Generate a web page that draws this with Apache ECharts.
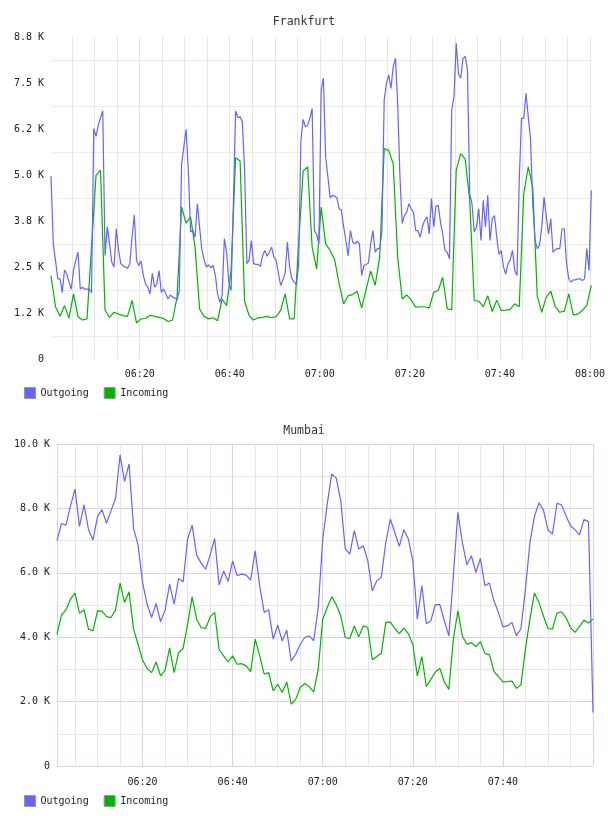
<!DOCTYPE html>
<html>
<head>
<meta charset="utf-8">
<script src="https://cdn.jsdelivr.net/npm/echarts@6/dist/echarts.min.js"></script>
<style>
  html, body { margin: 0; padding: 0; background: #fff; }
  #chart { width: 608px; height: 816px; }
</style>
</head>
<body>
<div id="chart"></div>
<script>
// time is in minutes after 06:00
const seriesNames = ['Outgoing', 'Incoming']
const seriesColors = ['#6464ff', '#00b400']

const timeTicks = [20, 40, 60, 80, 100, 120]
const timeLabels = ['06:20', '06:40', '07:00', '07:20', '07:40', '08:00']

// Frankfurt
const frkStart = 0.3
const frkOutStep = 0.5
const frkInStep = 1
const frkYTicks = [0, 1250, 2500, 3750, 5000, 6250, 7500, 8750]
const frkYLabels = ['0', '1.2 K', '2.5 K', '3.8 K', '5.0 K', '6.2 K', '7.5 K', '8.8 K']

const frkOut = [
  4970, 3130, 2680, 2180, 2180, 1810, 2420, 2310, 2090, 1900,
  2400, 2680, 2900, 1900, 1950, 1900, 1900, 1900, 1800, 6260,
  6050, 6350, 6560, 6740, 2810, 3590, 3130, 2630, 2500, 3540,
  2950, 2590, 2530, 2500, 2460, 2590, 3310, 3920, 2680, 2540,
  2660, 2270, 2040, 1950, 1770, 2330, 1950, 2040, 2400, 1810,
  1900, 1770, 1630, 1740, 1680, 1660, 1600, 1860, 5280, 5760,
  6240, 5130, 3450, 3510, 3310, 4220, 3590, 2970, 2700, 2500,
  2560, 2480, 2540, 2270, 1770, 1540, 1720, 3270, 2900, 2090,
  1860, 4220, 6740, 6560, 6580, 6450, 5130, 2590, 2680, 3220,
  2590, 2570, 2570, 2510, 2810, 2950, 2790, 2900, 3040, 2770,
  2680, 2330, 2000, 2150, 2330, 3180, 2500, 2180, 2090, 2020,
  2540, 5950, 6510, 6310, 6350, 6540, 6810, 3490, 3390, 3130,
  7290, 7630, 5490, 4950, 4380, 4450, 4420, 4380, 4080, 4040,
  3590, 3220, 2810, 3490, 3180, 3130, 3200, 3130, 2270, 2540,
  2570, 2610, 3130, 3490, 2900, 3000, 3000, 3450, 7040, 7490,
  7720, 7350, 7940, 8170, 6940, 4950, 3690, 3900, 3990, 4220,
  4080, 3990, 3490, 3490, 3310, 3600, 3770, 3860, 3400, 4360,
  3590, 4150, 4180, 3720, 3390, 2950, 2900, 2720, 6760, 7130,
  8580, 7740, 7630, 8170, 8220, 7850, 4490, 4220, 3450, 3590,
  4080, 3220, 4310, 3590, 4450, 3220, 3810, 3900, 3310, 2840,
  2950, 2500, 2310, 2590, 2700, 2950, 2400, 2270, 4860, 6540,
  6540, 7220, 6580, 5990, 4220, 3220, 3000, 3090, 3590, 4400,
  3860, 3400, 3810, 2900, 2970, 3000, 3000, 3540, 3540, 2590,
  2180, 2090, 2150, 2150, 2180, 2180, 2130, 2180, 3000, 2400,
  4580
]

const frkIn = [
  2270, 1420, 1160, 1450, 1110, 1770, 1150, 1060, 1090, 3040,
  4990, 5130, 1330, 1130, 1270, 1220, 1180, 1160, 1590, 980,
  1090, 1100, 1190, 1160, 1130, 1100, 1020, 1060, 1680, 4130,
  3690, 3860, 3040, 1360, 1160, 1090, 1120, 1040, 1630, 1450,
  2400, 5470, 5380, 1570, 1180, 1060, 1120, 1130, 1160, 1120,
  1150, 1320, 1770, 1090, 1090, 3130, 5110, 5220, 3040, 2450,
  4130, 3130, 2950, 2700, 2040, 1500, 1720, 1750, 1840, 1390,
  1900, 2390, 2000, 2770, 5720, 5670, 5310, 2770, 1630, 1740,
  1600, 1410, 1420, 1420, 1390, 1810, 1860, 2220, 1360, 1340,
  5130, 5580, 5430, 4310, 1590, 1570, 1420, 1720, 1290, 1600,
  1320, 1330, 1350, 1500, 1420, 4490, 5220, 4670, 1700, 1270,
  1680, 1840, 1420, 1270, 1300, 1770, 1200, 1220, 1320, 1450,
  2000
]

// Mumbai
const mumStart = 1
const mumStep = 1
const mumYTicks = [0, 2000, 4000, 6000, 8000, 10000]
const mumYLabels = ['0', '2.0 K', '4.0 K', '6.0 K', '8.0 K', '10.0 K']

const mumOut = [
  7000, 7530, 7480, 8080, 8600, 7440, 8110, 7340, 7020, 7750,
  7960, 7540, 7930, 8310, 9660, 8830, 9380, 7380, 6860, 5700,
  5030, 4610, 5050, 4480, 4840, 5650, 5030, 5820, 5720, 7050,
  7480, 6550, 6300, 6110, 6550, 7070, 5620, 6060, 5730, 6370,
  5910, 5960, 5930, 5770, 6680, 5600, 4770, 4850, 3940, 4370,
  3880, 4220, 3260, 3470, 3780, 3990, 4040, 3890, 4920, 7050,
  8140, 9070, 8940, 8240, 6740, 6580, 7310, 6740, 6840, 6370,
  5440, 5750, 5860, 6940, 7670, 7250, 6820, 7340, 7050, 6370,
  4560, 5600, 4420, 4510, 5010, 5010, 4510, 4040, 5910, 7880,
  6940, 6250, 6530, 6010, 6450, 5600, 5680, 5130, 4770, 4320,
  4350, 4460, 4040, 4270, 5490, 6940, 7750, 8170, 7950, 7330,
  7200, 8160, 8110, 7770, 7460, 7340, 7180, 7650, 7590, 1660
]

const mumIn = [
  4090, 4690, 4850, 5180, 5370, 4740, 4850, 4250, 4200, 4820,
  4810, 4640, 4610, 4850, 5680, 5080, 5410, 4250, 3780, 3290,
  3030, 2900, 3230, 2800, 2970, 3670, 2900, 3520, 3650, 4400,
  5250, 4560, 4300, 4270, 4630, 4770, 3610, 3420, 3230, 3420,
  3160, 3180, 3110, 2930, 3940, 3420, 2850, 2900, 2330, 2540,
  2280, 2610, 1920, 2070, 2440, 2560, 2460, 2300, 3010, 4560,
  4920, 5260, 5010, 4660, 3990, 3960, 4350, 4010, 4350, 4300,
  3300, 3400, 3500, 4460, 4470, 4270, 4110, 4280, 4110, 3780,
  2800, 3400, 2470, 2690, 2920, 3030, 2610, 2380, 3940, 4820,
  4040, 3780, 3830, 3710, 3860, 3490, 3460, 2940, 2780, 2610,
  2620, 2640, 2410, 2520, 3630, 4560, 5370, 5080, 4660, 4270,
  4250, 4750, 4790, 4610, 4300, 4150, 4330, 4530, 4440, 4560
]

const fontMono = '"DejaVu Sans Mono", monospace'

const toPoints = (values, start, step) => values.map((v, i) => [start + i * step, v])

const pickLabel = (ticks, labels) => (v) => {
  const idx = ticks.indexOf(v)
  return idx >= 0 ? labels[idx] : ''
}

const makeLine = (name, color, data, gridIndex) => ({
  name: name,
  type: 'line',
  xAxisIndex: gridIndex,
  yAxisIndex: gridIndex,
  data: data,
  showSymbol: false,
  symbol: 'none',
  lineStyle: { color: color, width: 1.2 },
  itemStyle: { color: color },
  z: name === 'Outgoing' ? 3 : 2
})

const axisText = { fontFamily: fontMono, fontSize: 10, color: '#222' }

const makeLegend = (top) => ({
  data: seriesNames,
  left: 24,
  top: top,
  padding: 0,
  icon: 'rect',
  itemWidth: 11,
  itemHeight: 11,
  itemGap: 15,
  itemStyle: { borderColor: '#999', borderWidth: 1 },
  textStyle: { fontFamily: fontMono, fontSize: 10, color: '#222' },
  selectedMode: false
})

const makeTitle = (text, top) => ({
  text: text,
  left: 'center',
  top: top,
  padding: 0,
  textStyle: { fontFamily: fontMono, fontSize: 11.5, fontWeight: 'normal', color: '#333' }
})

const chart = echarts.init(document.getElementById('chart'), null, { renderer: 'canvas' })

const option = {
  animation: false,
  backgroundColor: '#fff',
  title: [
    makeTitle('Frankfurt', 16),
    makeTitle('Mumbai', 425)
  ],
  legend: [
    makeLegend(387),
    makeLegend(795)
  ],
  grid: [
    { left: 51, top: 37, width: 542, height: 322 },
    { left: 57, top: 444, width: 536, height: 322 }
  ],
  xAxis: [
    {
      type: 'value',
      gridIndex: 0,
      min: frkStart,
      max: frkStart + 120,
      minInterval: 5,
      maxInterval: 5,
      splitNumber: 24,
      axisLine: { show: false },
      axisTick: { show: false },
      axisLabel: { ...axisText, margin: 10, formatter: pickLabel(timeTicks, timeLabels) },
      splitLine: {
        show: true,
        showMinLine: false,
        showMaxLine: false,
        lineStyle: { color: '#e6e6e6', width: 1 }
      }
    },
    {
      type: 'value',
      gridIndex: 1,
      min: mumStart,
      max: 120,
      minInterval: 5,
      maxInterval: 5,
      splitNumber: 24,
      axisLine: { show: false },
      axisTick: { show: false },
      axisLabel: { ...axisText, margin: 11, showMaxLabel: false, formatter: pickLabel(timeTicks, timeLabels) },
      splitLine: {
        show: true,
        lineStyle: { color: ['#e2cde4', '#e6e6e6', '#e6e6e6', '#e6e6e6'], width: 1 }
      }
    }
  ],
  yAxis: [
    {
      type: 'value',
      gridIndex: 0,
      min: 0,
      max: 8750,
      interval: 625,
      axisLine: { show: false },
      axisTick: { show: false },
      axisLabel: { ...axisText, margin: 7, formatter: pickLabel(frkYTicks, frkYLabels) },
      splitLine: {
        show: true,
        lineStyle: { color: ['rgba(0,0,0,0)', '#ececec'], width: 1 }
      }
    },
    {
      type: 'value',
      gridIndex: 1,
      min: 0,
      max: 10000,
      interval: 1000,
      axisLine: { show: false },
      axisTick: { show: false },
      axisLabel: { ...axisText, margin: 7, formatter: pickLabel(mumYTicks, mumYLabels) },
      splitLine: {
        show: true,
        lineStyle: { color: ['#e2cde4', '#e6e6e6'], width: 1 }
      }
    }
  ],
  series: [
    makeLine('Outgoing', seriesColors[0], toPoints(frkOut, frkStart, frkOutStep), 0),
    makeLine('Incoming', seriesColors[1], toPoints(frkIn, frkStart, frkInStep), 0),
    makeLine('Outgoing', seriesColors[0], toPoints(mumOut, mumStart, mumStep), 1),
    makeLine('Incoming', seriesColors[1], toPoints(mumIn, mumStart, mumStep), 1)
  ]
}

chart.setOption(option)

window.addEventListener('resize', () => {
  chart.resize()
})
</script>
</body>
</html>
